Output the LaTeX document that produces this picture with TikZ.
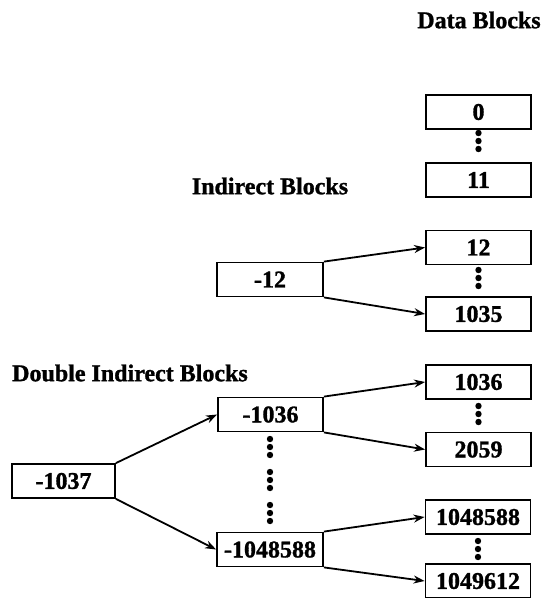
\documentclass[tikz,border=0pt]{standalone}
\usepackage{fontspec}
\setmainfont{Liberation Serif}[BoldFeatures={FakeBold=1.2}]
\usetikzlibrary{arrows.meta}
\begin{document}
\begin{tikzpicture}[x=1pt,y=-1pt,
  blk/.style={draw, line width=1.8pt, minimum width=105pt, minimum height=34pt, inner sep=0pt, font=\bfseries\fontsize{24}{28}\selectfont},
  lbl/.style={font=\bfseries\fontsize{24}{28}\selectfont, inner sep=0pt},
  arr/.style={line width=1.8pt, -{Stealth[length=11pt,width=8pt]}},
  dotcol/.pic={\foreach \d in {-8,0,8} \fill (0,\d) circle (3.2pt);}
]
\useasboundingbox (0,0) rectangle (545,598);

% titles
\node[lbl] (tdata) at (479,20) {Data Blocks};
\node[lbl] (tind) at (270,186) {Indirect Blocks};
\node[lbl, anchor=west] (tdbl) at (12,373) {Double Indirect Blocks};

% data blocks column
\node[blk] (b0) at (478.5,112) {0};
\node[blk] (b11) at (478.5,180) {11};
\node[blk] (b12) at (478.5,247.5) {12};
\node[blk] (b1035) at (478.5,314) {1035};
\node[blk] (b1036) at (478.5,382) {1036};
\node[blk] (b2059) at (478.5,449.5) {2059};
\node[blk] (b1048588) at (478,517) {1048588};
\node[blk] (b1049612) at (478,581) {1049612};

% indirect blocks
\node[blk, minimum width=106pt] (m12) at (270,279.5) {-12};
\node[blk] (m1036) at (270.5,414.5) {-1036};
\node[blk, minimum width=106pt] (m1048588) at (270,549.5) {-1048588};
\node[blk, minimum width=103pt] (m1037) at (63.5,481) {-1037};

% dots
\pic at (478.5,141) {dotcol};
\pic at (478.5,278) {dotcol};
\pic at (478.5,414) {dotcol};
\pic at (478,549) {dotcol};
\pic at (270,447) {dotcol};
\pic at (270,480) {dotcol};
\pic at (270,513) {dotcol};

% arrows
\draw[arr] (m12.north east) -- (b12.west);
\draw[arr] (m12.south east) -- (b1035.west);
\draw[arr] (m1037.north east) -- (m1036.west);
\draw[arr] (m1037.south east) -- (m1048588.west);
\draw[arr] (m1036.north east) -- (b1036.west);
\draw[arr] (m1036.south east) -- (b2059.west);
\draw[arr] (m1048588.north east) -- (b1048588.west);
\draw[arr] (m1048588.south east) -- (b1049612.west);
\end{tikzpicture}
\end{document}
